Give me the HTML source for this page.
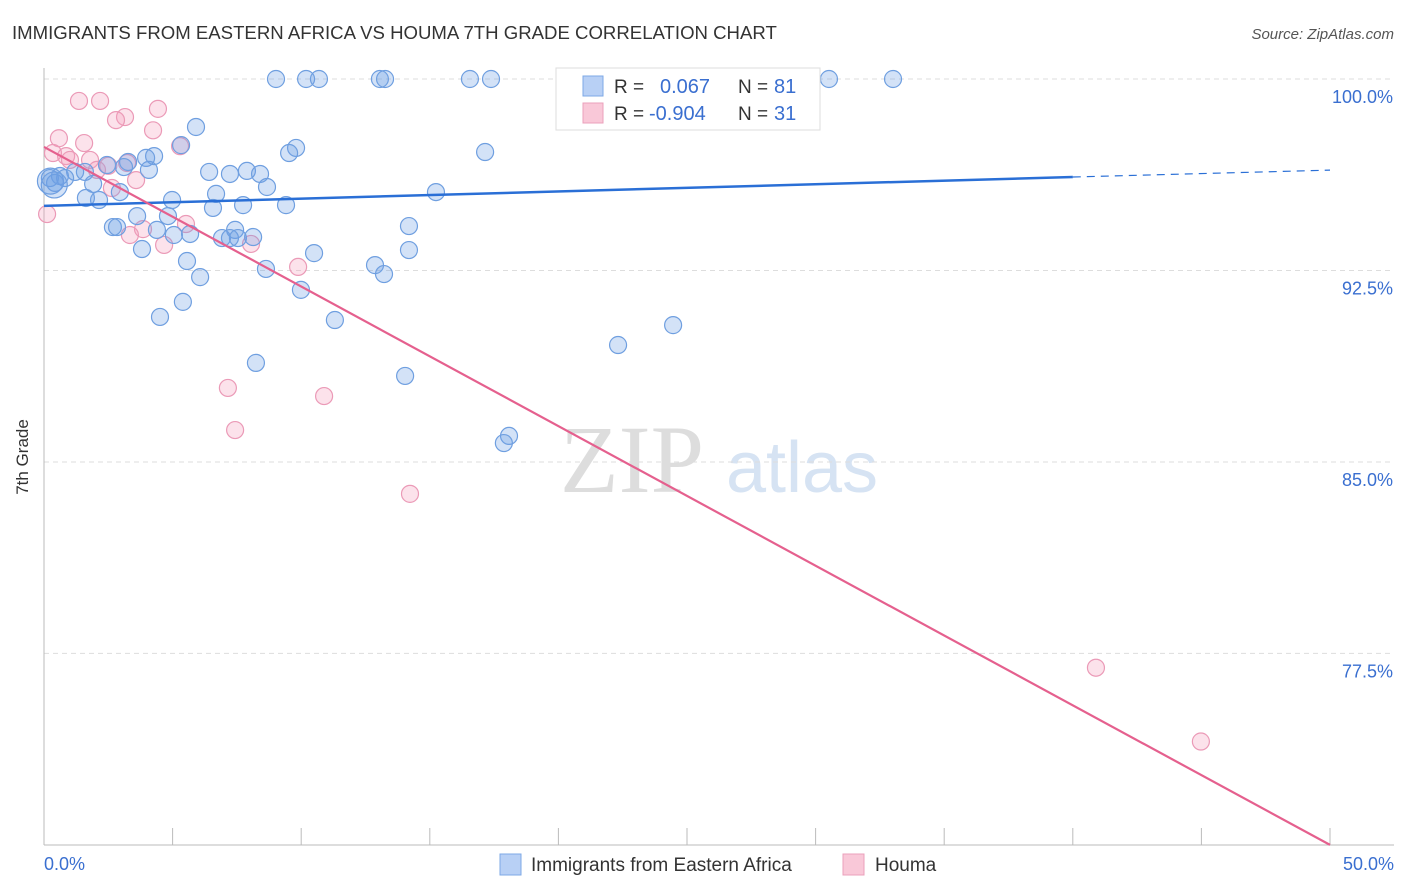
<!DOCTYPE html>
<html><head><meta charset="utf-8"><style>
body{margin:0;background:#fff;font-family:"Liberation Sans",sans-serif;}
svg{display:block}
</style></head><body>
<svg id="chart" width="1406" height="892">
<text x="12" y="39" font-size="18.6" fill="#333">IMMIGRANTS FROM EASTERN AFRICA VS HOUMA 7TH GRADE CORRELATION CHART</text>
<text x="1394" y="39" font-size="15" fill="#555" font-style="italic" text-anchor="end">Source: ZipAtlas.com</text>
<text x="28" y="457" font-size="17" fill="#333" text-anchor="middle" transform="rotate(-90 28 457)">7th Grade</text>
<g><text x="632" y="492" font-size="96" fill="#ddd" font-family="Liberation Serif,serif" text-anchor="middle">ZIP</text><text x="802" y="492" font-size="72" fill="#d6e3f3" text-anchor="middle">atlas</text></g>
<g id="grid"></g><g id="axes"></g><g id="pts"></g><g id="trends"></g>
<g>
<rect x="556" y="68" width="264" height="62" fill="#fff" stroke="#ddd"/>
<rect x="583" y="76" width="20" height="20" fill="#b8d0f5" stroke="#7ea8e6"/>
<rect x="583" y="103" width="20" height="20" fill="#f9c8d8" stroke="#eba0bb"/>
<text x="614" y="93" font-size="19" fill="#333">R = </text><text x="660" y="93" font-size="20" fill="#3a6fd0">0.067</text>
<text x="738" y="93" font-size="19" fill="#333">N = </text><text x="774" y="93" font-size="20" fill="#3a6fd0">81</text>
<text x="614" y="120" font-size="19" fill="#333">R = </text><text x="649" y="120" font-size="20" fill="#3a6fd0">-0.904</text>
<text x="738" y="120" font-size="19" fill="#333">N = </text><text x="774" y="120" font-size="20" fill="#3a6fd0">31</text>
</g>
<g>
<rect x="500" y="854" width="21" height="21" fill="#b8d0f5" stroke="#7ea8e6"/>
<text x="531" y="871" font-size="19" fill="#333">Immigrants from Eastern Africa</text>
<rect x="843" y="854" width="21" height="21" fill="#f9c8d8" stroke="#eba0bb"/>
<text x="875" y="871" font-size="19" fill="#333">Houma</text>
</g>
</svg>
<script>
const yTicks=[100,92.5,85,77.5];
const yTickLabels=["100.0%","92.5%","85.0%","77.5%"];
const xTickVals=[0,5,10,15,20,25,30,35,40,45,50];
const blueX=[9.02,10.19,10.69,13.06,13.26,16.56,17.38,23.29,30.52,33.01,5.91,5.33,9.80,9.53,17.15,4.28,3.97,3.27,2.45,3.11,4.08,6.42,7.23,7.89,8.40,1.59,1.21,0.62,0.82,0.23,0.43,1.91,8.67,2.95,6.69,15.24,4.98,2.14,1.63,9.41,7.74,6.57,3.62,4.82,2.68,2.84,4.39,7.43,14.19,5.05,5.68,6.92,7.23,7.54,8.13,3.81,10.50,14.19,5.56,12.87,6.07,8.63,13.22,5.40,9.99,4.51,11.31,24.46,22.32,8.24,14.04,18.08,17.88,0.25,0.4];
const blueY=[100,100,100,100,100,100,100,100,100,100,98.12,97.41,97.30,97.10,97.14,96.98,96.91,96.75,96.63,96.55,96.44,96.36,96.28,96.40,96.28,96.36,96.36,96.20,96.12,96.12,95.93,95.89,95.77,95.57,95.50,95.57,95.26,95.26,95.34,95.06,95.06,94.95,94.63,94.63,94.20,94.20,94.09,94.09,94.24,93.89,93.93,93.77,93.77,93.77,93.81,93.34,93.18,93.30,92.87,92.71,92.24,92.56,92.36,91.27,91.74,90.68,90.56,90.36,89.58,88.88,88.37,86.02,85.74,96.0,95.85];
const pinkX=[1.36,2.18,4.43,3.15,2.80,4.24,0.58,1.56,5.29,0.35,0.86,1.01,1.79,3.23,2.06,3.58,2.64,0.12,5.52,3.85,3.34,4.67,8.05,9.88,7.15,10.89,7.43,14.23,40.90,44.98,2.5];
const pinkY=[99.14,99.14,98.83,98.51,98.39,97.99,97.68,97.49,97.37,97.10,96.98,96.83,96.83,96.71,96.44,96.04,95.73,94.71,94.32,94.12,93.89,93.50,93.54,92.64,87.90,87.58,86.25,83.75,76.94,74.05,96.6];
const blueTrend=[95.03,96.16,96.43];
const pinkTrend=[97.34,70.0];
const NS="http://www.w3.org/2000/svg";
const X=v=>44+v*25.72, Y=v=>79+(100-v)*25.53;
function mk(t,a,p){const e=document.createElementNS(NS,t);for(const k in a)e.setAttribute(k,a[k]);p.appendChild(e);return e;}
const grid=document.getElementById('grid'),axes=document.getElementById('axes'),pts=document.getElementById('pts'),tr=document.getElementById('trends');
yTicks.forEach((v,i)=>{
 const l=mk('line',{x1:44,x2:1394,y1:Y(v),y2:Y(v),stroke:'#ddd','stroke-dasharray':'5,4'},grid);
 
 
 const t=mk('text',{x:1393,y:Y(v)+24,'font-size':18,fill:'#3a6fd0','text-anchor':'end'},axes);
 t.textContent=yTickLabels[i];
 
 
});
mk('line',{x1:44,x2:44,y1:68,y2:845,stroke:'#bbb'},axes);
mk('line',{x1:44,x2:1394,y1:845,y2:845,stroke:'#bbb'},axes);
xTickVals.forEach(v=>{const l=mk('line',{x1:X(v),x2:X(v),y1:828,y2:845,stroke:'#bbb'},axes);
 
 });
let t0=mk('text',{x:44,y:870,'font-size':18,fill:'#3a6fd0'},axes);t0.textContent='0.0%';


let t1=mk('text',{x:1394,y:870,'font-size':18,fill:'#3a6fd0','text-anchor':'end'},axes);t1.textContent='50.0%';


pinkX.forEach((x,i)=>{const c=mk('circle',{cx:X(x),cy:Y(pinkY[i]),r:8.5,fill:'rgba(244,160,188,0.3)',stroke:'#eb9ab7','stroke-width':1.2},pts);
 
 });
blueX.forEach((x,i)=>{const c=mk('circle',{cx:X(x),cy:Y(blueY[i]),r:i>=blueX.length-2?13:8.5,fill:'rgba(110,160,230,0.3)',stroke:'#6f9fe0','stroke-width':1.2},pts);
 
 });
let b1=mk('line',{x1:X(0),y1:Y(blueTrend[0]),x2:X(40),y2:Y(blueTrend[1]),stroke:'#2a6fd6','stroke-width':2.5},tr);


let b2=mk('line',{x1:X(40),y1:Y(blueTrend[1]),x2:X(50),y2:Y(blueTrend[2]),stroke:'#2a6fd6','stroke-width':1.2,'stroke-dasharray':'8,6'},tr);


let p1=mk('line',{x1:X(0),y1:Y(pinkTrend[0]),x2:X(50),y2:Y(pinkTrend[1]),stroke:'#e5608e','stroke-width':2.2},tr);


</script>
</body></html>
